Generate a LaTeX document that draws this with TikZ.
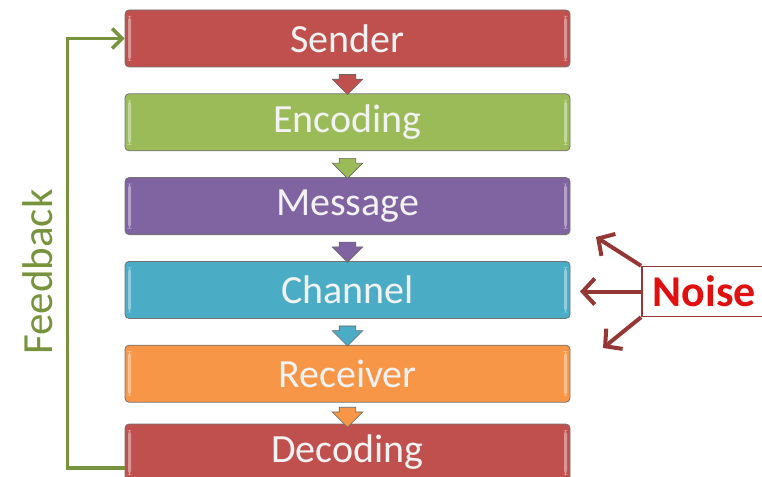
\documentclass[tikz,border=0pt]{standalone}
\usepackage{fontspec}
\setmainfont{Carlito}
\usetikzlibrary{arrows.meta}
\usetikzlibrary{positioning}
\usetikzlibrary{shapes.arrows}
\usetikzlibrary{calc}

\definecolor{sendred}{HTML}{C0504D}
\definecolor{encgreen}{HTML}{9BBB59}
\definecolor{msgpurple}{HTML}{8064A2}
\definecolor{chanblue}{HTML}{4BACC6}
\definecolor{recorange}{HTML}{F79646}
\definecolor{fbgreen}{HTML}{77933C}
\definecolor{noisedark}{HTML}{953735}
\definecolor{noisetext}{HTML}{E01010}

\begin{document}
\begin{tikzpicture}[x=1pt, y=-1pt, node distance=26pt]
\tikzstyle{stage} = [draw=black!55, rounded corners=4pt, line width=0.8pt, minimum width=445pt, minimum height=57pt, text=white!95!black, font=\fontsize{40}{46}\selectfont,
  path picture={
    \fill[white, opacity=0.4] ([xshift=3pt,yshift=-6pt]path picture bounding box.north west) rectangle ([xshift=6pt,yshift=6pt]path picture bounding box.south west);
    \fill[white, opacity=0.4] ([xshift=-3pt,yshift=-6pt]path picture bounding box.north east) rectangle ([xshift=-6pt,yshift=6pt]path picture bounding box.south east);
  }]
\tikzstyle{down} = [single arrow, shape border rotate=270, minimum height=20pt, single arrow head extend=7pt, inner xsep=8pt, inner ysep=0pt, draw=black!60, line width=0.6pt]
\tikzstyle{noisy} = [-{Straight Barb[length=12pt,width=26pt]}, line width=4pt, draw=noisedark]

\useasboundingbox (0,0) rectangle (762,476);

\node[stage, fill=sendred] (snd) at (347.5,38.5) {Sender};
\node[stage, fill=encgreen] (enc) [below=of snd] {Encoding};
\node[stage, fill=msgpurple] (msg) [below=of enc] {Message};
\node[stage, fill=chanblue] (chn) [below=of msg] {Channel};
\node[stage, fill=recorange] (rcv) [below=of chn] {Receiver};
\node[stage, fill=sendred] (dec) [below=21pt of rcv] {Decoding};

% small arrows between the stages
\node[down, fill=sendred] (a1) at ($(snd.south)!0.5!(enc.north)$) {};
\node[down, fill=encgreen] (a2) at ($(enc.south)!0.5!(msg.north)$) {};
\node[down, fill=msgpurple] (a3) at ($(msg.south)!0.5!(chn.north)$) {};
\node[down, fill=chanblue] (a4) at ($(chn.south)!0.5!(rcv.north)$) {};
\node[down, fill=recorange] (a5) at ($(rcv.south)!0.5!(dec.north)$) {};

% feedback loop
\draw[-{Straight Barb[length=10pt,width=20pt]}, line width=3.5pt, draw=fbgreen] ([yshift=-15.5pt]dec.west) -- ++(-57,0) |- (snd.west);
\node[rotate=90, text=fbgreen, font=\fontsize{43}{48}\selectfont] (fbl) at (38,272) {Feedback};

% noise
\node[draw=noisedark, line width=1.5pt, anchor=west, text width=112pt, align=left, inner xsep=11pt, minimum height=50pt, text=noisetext, font=\fontsize{44}{50}\selectfont\bfseries] (noise) at (641,291.5) {Noise};
\coordinate (n1) at (596,237);
\coordinate (n2) at (580,291.5);
\coordinate (n3) at (603,348);
\draw[noisy] (noise.north west) -- (n1);
\draw[noisy] (noise.west) -- (n2);
\draw[noisy] (noise.south west) -- (n3);

\end{tikzpicture}
\end{document}
